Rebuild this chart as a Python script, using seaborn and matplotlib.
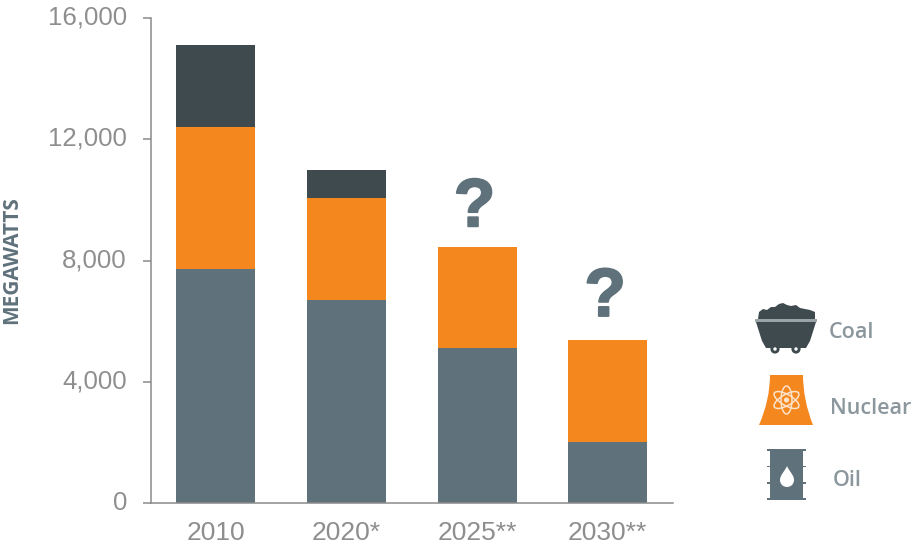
import matplotlib
matplotlib.use("Agg")
import matplotlib.pyplot as plt
from matplotlib.patches import Circle, Ellipse, PathPatch, Polygon, Rectangle
from matplotlib.path import Path
from matplotlib.transforms import ScaledTranslation
import matplotlib.patheffects as pe
import numpy as np
import pandas as pd
import seaborn as sns

years = ["2010", "2020*", "2025**", "2030**"]
oil = [7720, 6700, 5110, 2010]
nuclear = [4680, 3360, 3335, 3370]
coal = [2710, 925, 0, 0]
y_ticks = [0, 4000, 8000, 12000, 16000]
unknown_years = ["2025**", "2030**"]
unknown_marks = [9130, 6170]
legend_labels = ["Coal", "Nuclear", "Oil"]

OIL_C = "#5f727b"
NUCLEAR_C = "#f5871f"
COAL_C = "#3f4a4f"
TICK_C = "#8e8e8e"
AXIS_C = "#8a8a8a"
LEGEND_C = "#8b979d"

sns.set_theme(style="white")
plt.rcParams["font.family"] = ["Liberation Sans", "DejaVu Sans"]

W, H = 911, 547
fig = plt.figure(figsize=(W / 100, H / 100), dpi=100, facecolor="white")
ax = fig.add_axes([150.5 / W, 1 - 503 / H, 522.5 / W, 485 / H])

df = pd.DataFrame({"year": years, "Oil": oil, "Nuclear": nuclear, "Coal": coal})
bottom = np.zeros(len(df))
for name, color in [("Oil", OIL_C), ("Nuclear", NUCLEAR_C), ("Coal", COAL_C)]:
    sns.barplot(data=df, x="year", y=name, color=color, bottom=bottom,
                width=0.605, saturation=1, linewidth=0, ax=ax)
    bottom = bottom + df[name].to_numpy()

ax.set_xlim(-0.5, 3.5)
ax.set_ylim(0, 16000)
ax.set_yticks(y_ticks)
ax.set_yticklabels([f"{v:,}" for v in y_ticks])
ax.set_xlabel("")
ax.set_ylabel("MEGAWATTS", fontsize=15, fontweight="bold", color=OIL_C,
              family=["Open Sans", "DejaVu Sans"])
ax.yaxis.set_label_coords(-0.246, 0.5)

sns.despine(ax=ax)
for side in ("left", "bottom"):
    ax.spines[side].set_color(AXIS_C)
    ax.spines[side].set_linewidth(1.1)
ax.tick_params(axis="y", length=6, width=1.1, color=AXIS_C, left=True,
               labelcolor=TICK_C, labelsize=18.6, pad=11)
ax.tick_params(axis="x", length=0, labelcolor=TICK_C, labelsize=19, pad=13.2)

# Nudge the value labels up so they sit centred on their ticks
lift = ScaledTranslation(0, 2 / 72, fig.dpi_scale_trans)
for label in ax.get_yticklabels():
    label.set_transform(label.get_transform() + lift)

# Question marks above the two projected years
for year, y in zip(unknown_years, unknown_marks):
    ax.text(years.index(year) - 0.02, y, "?", ha="center", va="baseline",
            fontsize=49, fontweight="bold", color=OIL_C,
            path_effects=[pe.withStroke(linewidth=1.4, foreground=OIL_C)])

# Pixel-space overlay for the legend icons
ov = fig.add_axes([0, 0, 1, 1], facecolor="none")
ov.set_xlim(0, W)
ov.set_ylim(H, 0)
ov.axis("off")

# Coal cart
pile = [(758, 319), (759, 312), (763, 309), (767, 310), (771, 307), (775, 307),
        (779, 304), (783, 303), (787, 305), (791, 306), (796, 305), (800, 308),
        (805, 309), (810, 310), (815, 312), (815, 319)]
ov.add_patch(Polygon(pile, closed=True, fc=COAL_C, ec="none"))
ov.add_patch(Rectangle((755, 319), 62, 3, fc="#9aa3a7", ec="none"))
ov.add_patch(Polygon([(756, 322), (816, 322), (810, 341), (806, 348), (766, 348), (762, 341)],
                     closed=True, fc=COAL_C, ec="none"))
for cx in (775, 796):
    ov.add_patch(Circle((cx, 349), 4.6, fc=COAL_C, ec="none"))
    ov.add_patch(Circle((cx, 349), 1.7, fc="white", ec="none"))

# Cooling tower with atom
tower = Path([(770, 375), (803, 375), (803, 400), (813, 425), (759, 425), (770, 400), (770, 375)],
             [Path.MOVETO, Path.LINETO, Path.CURVE3, Path.CURVE3, Path.LINETO, Path.CURVE3, Path.CURVE3])
ov.add_patch(PathPatch(tower, fc=NUCLEAR_C, ec="none"))
for angle in (30, 90, 150):
    ov.add_patch(Ellipse((786.5, 400), 28, 11, angle=angle, fc="none", ec="#fde3c8", lw=1.1))
ov.add_patch(Circle((786.5, 400), 2.6, fc="#fde3c8", ec="none"))

# Oil barrel with droplet
ov.add_patch(Rectangle((770, 449), 33, 50, fc=OIL_C, ec="none"))
for y, h in ((448.5, 2.5), (497.5, 2.5)):
    ov.add_patch(Rectangle((767, y), 39, h, fc=OIL_C, ec="none"))
for y in (465.5, 482):
    ov.add_patch(Rectangle((767, y), 39, 1.5, fc=OIL_C, ec="none"))
drop = Path([(787, 466), (789, 471), (794, 475), (794, 480),
             (794, 484), (791, 487), (787, 487),
             (783, 487), (780, 484), (780, 480),
             (780, 475), (785, 471), (787, 466)],
            [Path.MOVETO] + [Path.CURVE4] * 12)
ov.add_patch(PathPatch(drop, fc="white", ec="none"))

for label, x, y in zip(legend_labels, (829, 830.5, 832.5), (333, 409, 481)):
    ov.text(x, y, label, ha="left", va="center", fontsize=15.5, fontweight="semibold",
            color=LEGEND_C, family=["Open Sans", "DejaVu Sans"])

fig.savefig("out.png", dpi=100)
